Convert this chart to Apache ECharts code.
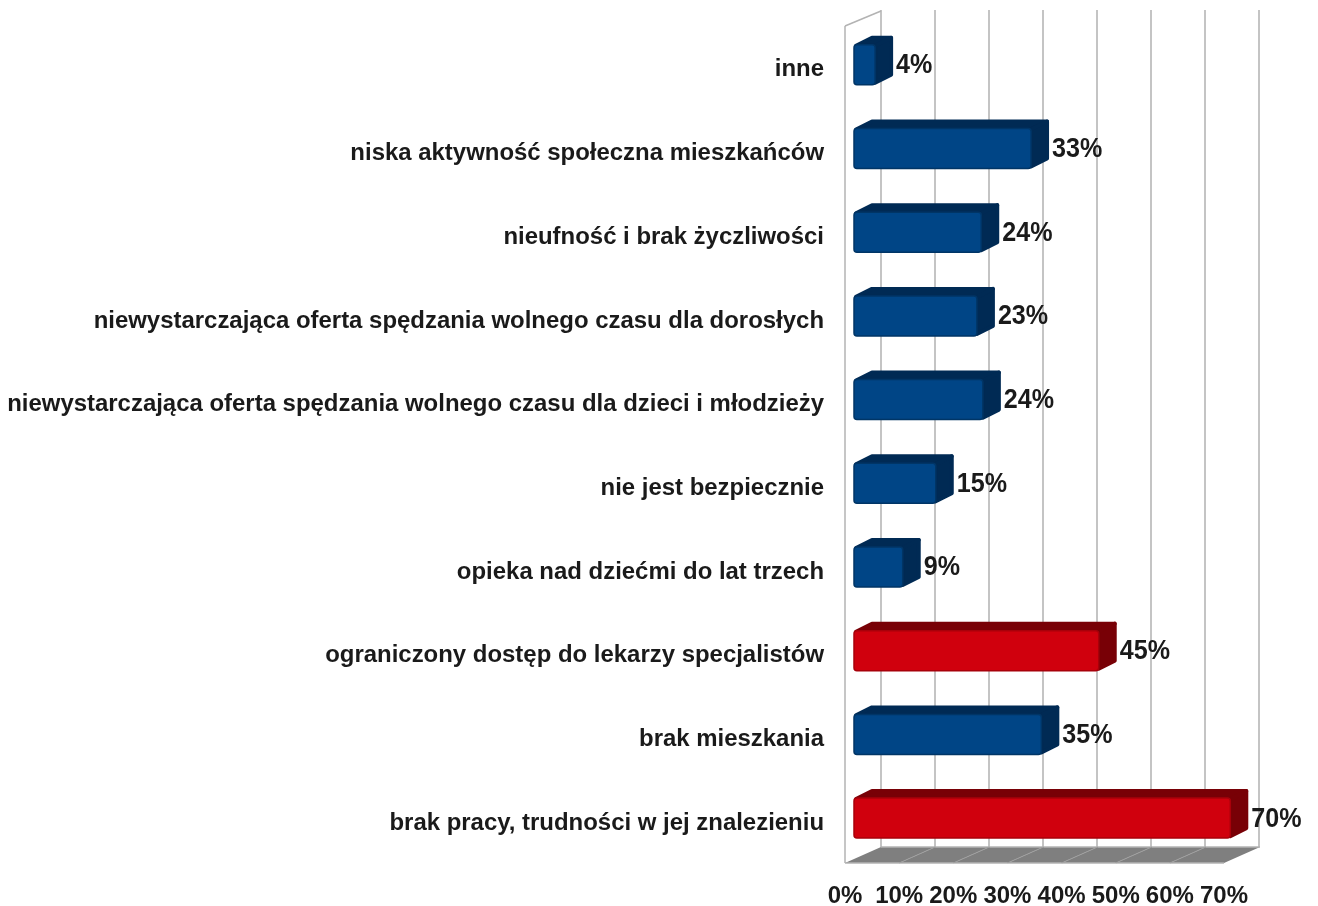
<!DOCTYPE html>
<html><head><meta charset="utf-8">
<style>html,body{margin:0;padding:0;background:#fff}#c{width:1318px;height:906px}</style>
<script src="https://cdn.jsdelivr.net/npm/echarts@6/dist/echarts.min.js"></script>
</head><body><div id="c"></div>
<script>
var categories = ['inne','niska aktywność społeczna mieszkańców','nieufność i brak życzliwości','niewystarczająca oferta spędzania wolnego czasu dla dorosłych','niewystarczająca oferta spędzania wolnego czasu dla dzieci i młodzieży','nie jest bezpiecznie','opieka nad dziećmi do lat trzech','ograniczony dostęp do lekarzy specjalistów','brak mieszkania','brak pracy, trudności w jej znalezieniu'];
var values = [3.9,32.7,23.5,22.7,23.8,15.1,9,45.2,34.6,69.5];
var highlighted = [0,0,0,0,0,0,0,1,0,1];
var xTicks = [0,10,20,30,40,50,60,70];
var axisMax = 70;
var FONT = '"Liberation Sans"';
var TXT = '#1a1a1a';
var DX = 36, DY = 16;        // depth of the chart box
var palette = [
  {face:'#004586', edge:'#003566', dark:'#002a54'},
  {face:'#d0000d', edge:'#a8000a', dark:'#780006'}
];
function renderBar(params, api){
  var i = api.value(0), v = api.value(1), c = palette[api.value(2)];
  var p0 = api.coord([0, i]), p1 = api.coord([v, i]);
  var band = api.size([0, 1])[1];
  var h = band * 0.478, ox = DX * 0.25, oy = DY * 0.19, dx = DX * 0.5, dy = DY * 0.5;
  var x0 = p0[0] + ox, x1 = p1[0] + ox, yc = p0[1] - oy, t = yc - h / 2, b = yc + h / 2;
  var sty = {fill:c.dark, stroke:c.dark, lineWidth:4, lineJoin:'round'};
  return {type:'group', children:[
    {type:'polygon', shape:{points:[[x0+2,t+1],[x0+dx,t-dy+1],[x1+dx-2,t-dy+1],[x1,t+1]]}, style:sty},
    {type:'polygon', shape:{points:[[x1,t+1],[x1+dx-2,t-dy+1],[x1+dx-2,b-dy-2],[x1,b-2]]}, style:sty},
    {type:'rect', shape:{x:x0, y:t, width:x1-x0, height:b-t, r:3}, style:{fill:c.face, stroke:c.edge, lineWidth:1.5}},
    {type:'text', x:x1+dx+3, y:yc+1, scaleX:0.93, style:{text:Math.round(v)+'%', fill:TXT, font:'bold 27px '+FONT, align:'left', verticalAlign:'middle'}}
  ]};
}
function renderFloor(params, api){
  var t0 = api.value(0), t1 = api.value(1);
  var a = api.coord([t0, 0]), e = api.coord([t1, 0]);
  var yb = params.coordSys.y + params.coordSys.height;
  var line = {stroke:'#b3b3b3', lineWidth:1.5};
  var diag = {stroke:'#a0a0a0', lineWidth:1};
  var kids = [
    {type:'polygon', shape:{points:[[a[0],yb],[a[0]+DX,yb-DY],[e[0]+DX,yb-DY],[e[0],yb]]}, style:{fill:'#7f7f7f'}},
    {type:'line', shape:{x1:a[0],y1:yb,x2:e[0],y2:yb}, style:line},
    {type:'line', shape:{x1:a[0]+DX,y1:yb-DY,x2:e[0]+DX,y2:yb-DY}, style:line}
  ];
  if (t0 > 0) kids.push({type:'line', shape:{x1:a[0],y1:yb,x2:a[0]+DX,y2:yb-DY}, style:diag});
  return {type:'group', children:kids};
}
function renderWall(params, api){
  var a = api.coord([0, 0]), cs = params.coordSys;
  var line = {stroke:'#b3b3b3', lineWidth:1.5};
  return {type:'group', children:[
    {type:'line', shape:{x1:a[0],y1:cs.y,x2:a[0],y2:cs.y+cs.height}, style:line},
    {type:'line', shape:{x1:a[0],y1:cs.y,x2:a[0]+DX,y2:cs.y-DY+1}, style:line}
  ]};
}
var floorData = xTicks.slice(0,-1).map(function(t,i){return [t, xTicks[i+1]];});
var barData = values.map(function(v,i){return [i, v, highlighted[i]];});
var chart = echarts.init(document.getElementById('c'));
chart.setOption({
  animation:false,
  backgroundColor:'#fff',
  grid:[
    {left:845, top:26, width:379, height:837, outerBoundsMode:'none'},
    {left:881, top:10, width:378, height:837, outerBoundsMode:'none'},
    {left:845, top:28, width:379, height:837, outerBoundsMode:'none'}
  ],
  xAxis:[
    {gridIndex:0, type:'value', min:0, max:axisMax, interval:10, splitLine:{show:false}, axisLine:{show:false}, axisTick:{show:false},
     axisLabel:{formatter:'{value}%', color:TXT, fontFamily:FONT, fontWeight:'bold', fontSize:24, margin:21, hideOverlap:false}},
    {gridIndex:1, type:'value', min:0, max:axisMax, interval:10, axisLabel:{show:false}, axisLine:{show:false}, axisTick:{show:false},
     splitLine:{show:true, lineStyle:{color:'#b0b0b0', width:1.5}}},
    {gridIndex:2, type:'value', min:0, max:axisMax, interval:10, show:false}
  ],
  yAxis:[
    {gridIndex:0, type:'category', inverse:true, data:categories, axisLine:{show:false}, axisTick:{show:false}, axisLabel:{show:false}},
    {gridIndex:1, type:'category', inverse:true, data:categories, axisLine:{show:false}, axisTick:{show:false}, axisLabel:{show:false}},
    {gridIndex:2, type:'category', inverse:true, data:categories, axisLine:{show:false}, axisTick:{show:false},
     axisLabel:{interval:0, color:TXT, fontFamily:FONT, fontWeight:'bold', fontSize:23.95, margin:21}}
  ],
  series:[
    {type:'custom', name:'floor', xAxisIndex:0, yAxisIndex:0, data:floorData, renderItem:renderFloor, silent:true, clip:false, z:1, encode:{x:[0,1]}},
    {type:'custom', name:'wall', xAxisIndex:0, yAxisIndex:0, data:[[0]], renderItem:renderWall, silent:true, clip:false, z:1, encode:{x:0}},
    {type:'custom', name:'bars', xAxisIndex:0, yAxisIndex:0, data:barData, renderItem:renderBar, silent:true, clip:false, z:3, encode:{x:1,y:0}}
  ]
});
</script></body></html>
